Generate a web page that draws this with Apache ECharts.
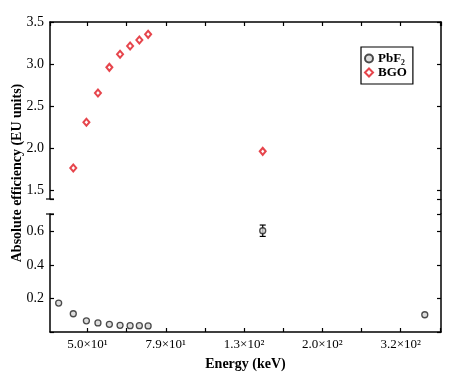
<!DOCTYPE html>
<html>
<head>
<meta charset="utf-8">
<script src="https://cdn.jsdelivr.net/npm/echarts@6/dist/echarts.min.js"></script>
<style>
html, body { margin: 0; padding: 0; background: #fff; }
#main { width: 474px; height: 377px; }
</style>
</head>
<body>
<div id="main"></div>
<script>
// energies in keV, efficiencies in EU units
var pbf2Energy = [42.3, 46.1, 49.8, 53.3, 57.0, 60.7, 64.4, 68.0, 71.6, 140.5, 364.5];
var pbf2Eff = [0.173, 0.109, 0.067, 0.054, 0.046, 0.040, 0.038, 0.038, 0.036, 0.605, 0.103];
var pbf2Err = [0, 0, 0, 0, 0, 0, 0, 0, 0, 0.034, 0];
var bgoEnergy = [46.1, 49.8, 53.3, 57.0, 60.7, 64.4, 68.0, 71.6, 140.5];
var bgoEff = [1.762, 2.306, 2.655, 2.960, 3.115, 3.214, 3.286, 3.353, 1.960];
var xTickExp = [1.7, 1.9, 2.1, 2.3, 2.5];
var xTickLabels = ['5.0×10¹', '7.9×10¹', '1.3×10²', '2.0×10²', '3.2×10²'];

var FONT = "'Liberation Serif', 'Times New Roman', serif";
var L = 50, R = 441, topY = 22, breakHi = 199, breakLo = 214, botY = 332;

function xLabel(v) {
    var e = Math.log10(v);
    for (var i = 0; i < xTickExp.length; i++) {
        if (Math.abs(e - xTickExp[i]) < 0.002) return xTickLabels[i];
    }
    return '';
}

var axisLine = {show: true, onZero: false, lineStyle: {color: '#000', width: 1.5}};
var axisTick = {show: true, inside: true, length: 4, lineStyle: {color: '#000', width: 1.2}};

function xAx(grid, pos, labels) {
    return {
        type: 'log', gridIndex: grid, position: pos,
        logBase: Math.pow(10, 0.1), min: 40.2, max: 401,
        axisLine: axisLine, axisTick: axisTick, splitLine: {show: false},
        axisLabel: {show: labels, formatter: xLabel, color: '#000', fontFamily: FONT, fontSize: 13, margin: 6,
            showMinLabel: false, showMaxLabel: false}
    };
}
function yAx(grid, pos, min, max, step, labels) {
    var a = {
        type: 'value', gridIndex: grid, position: pos, min: min, max: max,
        axisLine: axisLine, axisTick: axisTick, splitLine: {show: false},
        axisLabel: {show: labels, color: '#000', fontFamily: FONT, fontSize: 14, margin: 6,
            formatter: function (v) {
                var k = v / step;
                if (v === 0 || Math.abs(k - Math.round(k)) > 1e-6) return '';
                return v.toFixed(1);
            }}
    };
    if (step === 0.2) a.interval = step;
    return a;
}

var pbf2Data = pbf2Energy.map(function (e, i) { return [e, pbf2Eff[i]]; });
var bgoData = bgoEnergy.map(function (e, i) { return [e, bgoEff[i]]; });
var errData = [];
pbf2Energy.forEach(function (e, i) {
    if (pbf2Err[i] > 0) errData.push([e, pbf2Eff[i] - pbf2Err[i], pbf2Eff[i] + pbf2Err[i]]);
});

var option = {
    backgroundColor: '#fff',
    animation: false,
    grid: [
        {left: L, right: 474 - R, top: topY, height: breakHi - topY},
        {left: L, right: 474 - R, top: breakLo, height: botY - breakLo}
    ],
    xAxis: [
        xAx(0, 'top', false),
        Object.assign(xAx(1, 'bottom', true), {
            name: 'Energy (keV)', nameLocation: 'middle', nameGap: 25,
            nameTextStyle: {color: '#000', fontFamily: FONT, fontSize: 14, fontWeight: 'bold'}
        })
    ],
    yAxis: [
        yAx(0, 'left', 1.393, 3.5, 0.5, true),
        yAx(0, 'right', 1.393, 3.5, 0.5, false),
        yAx(1, 'left', 0, 0.705, 0.2, true),
        yAx(1, 'right', 0, 0.705, 0.2, false)
    ],
    legend: {
        orient: 'vertical', left: 361, top: 47,
        padding: [5, 6, 5, 3], itemGap: 1, itemWidth: 8, itemHeight: 8,
        borderColor: '#000', borderWidth: 1.2, borderRadius: 0,
        data: ['PbF₂', 'BGO'],
        textStyle: {color: '#000', fontFamily: FONT, fontSize: 13, fontWeight: 'bold'}
    },
    series: [
        {
            name: 'PbF₂', type: 'scatter', xAxisIndex: 1, yAxisIndex: 2,
            symbol: 'circle', symbolSize: 6, data: pbf2Data,
            itemStyle: {color: '#d4d4d4', borderColor: '#222', borderWidth: 1.3}
        },
        {
            name: 'BGO', type: 'scatter', xAxisIndex: 0, yAxisIndex: 0,
            symbol: 'diamond', symbolSize: [6, 7], data: bgoData,
            itemStyle: {color: '#fff', borderColor: '#e0161f', borderWidth: 2}
        },
        {
            name: 'err', type: 'custom', xAxisIndex: 1, yAxisIndex: 2, data: errData,
            renderItem: function (params, api) {
                var lo = api.coord([api.value(0), api.value(1)]);
                var hi = api.coord([api.value(0), api.value(2)]);
                var w = 3;
                var st = {stroke: '#000', lineWidth: 1.2};
                return {type: 'group', children: [
                    {type: 'line', shape: {x1: lo[0], y1: lo[1], x2: hi[0], y2: hi[1]}, style: st},
                    {type: 'line', shape: {x1: lo[0] - w, y1: lo[1], x2: lo[0] + w, y2: lo[1]}, style: st},
                    {type: 'line', shape: {x1: hi[0] - w, y1: hi[1], x2: hi[0] + w, y2: hi[1]}, style: st}
                ]};
            }
        }
    ],
    graphic: [
        {type: 'text', x: 17, y: 173, rotation: Math.PI / 2,
            style: {text: 'Absolute efficiency (EU units)', fill: '#000', font: 'bold 14px ' + FONT,
                textAlign: 'center', textVerticalAlign: 'middle'}},
        {type: 'line', shape: {x1: R, y1: breakHi, x2: R, y2: breakLo}, style: {stroke: '#000', lineWidth: 1.5}},
        {type: 'line', shape: {x1: L - 4, y1: breakHi, x2: L + 4, y2: breakHi}, style: {stroke: '#000', lineWidth: 1.2}},
        {type: 'line', shape: {x1: L - 4, y1: breakLo, x2: L + 4, y2: breakLo}, style: {stroke: '#000', lineWidth: 1.2}}
    ]
};

var myChart = echarts.init(document.getElementById('main'));
myChart.setOption(option, true);
</script>
</body>
</html>
